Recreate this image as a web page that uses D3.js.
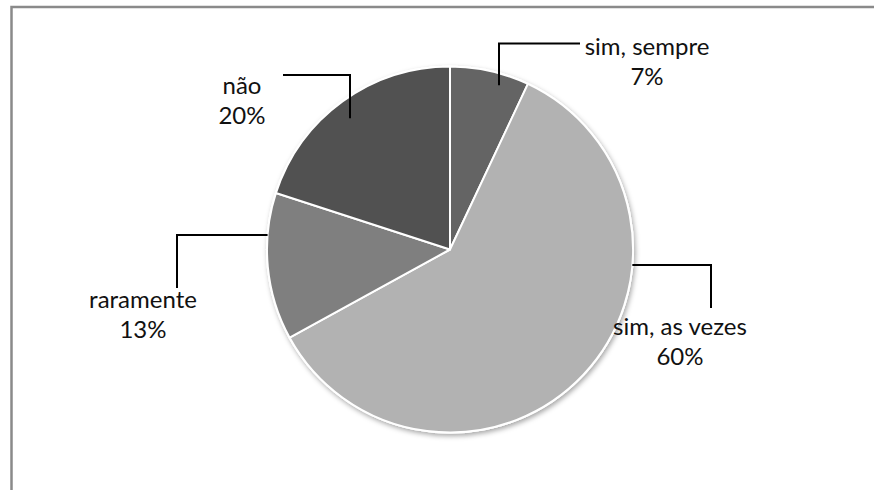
<!DOCTYPE html>
<html><head><meta charset="utf-8">
<script src="https://cdn.jsdelivr.net/npm/d3@7/dist/d3.min.js"></script>
<style>html,body{margin:0;padding:0;background:#fff;}svg{display:block;}</style>
</head><body><div id="chart"></div>
<script>
const categories = ["sim, sempre", "sim, as vezes", "raramente", "não"];
const values = [7, 60, 13, 20];
const percentLabels = ["7%", "60%", "13%", "20%"];
const colors = ["#646464", "#b2b2b2", "#7f7f7f", "#515151"];

const W = 874, H = 490;
const cx = 450, cy = 249.5, R = 183;

const svg = d3.select("#chart").append("svg").attr("width", W).attr("height", H);
const defs = svg.append("defs");
const f = defs.append("filter").attr("id", "sh").attr("x", "-20%").attr("y", "-20%").attr("width", "140%").attr("height", "140%");
f.append("feDropShadow").attr("dx", 1.5).attr("dy", 2.5).attr("stdDeviation", 2.5).attr("flood-color", "#000").attr("flood-opacity", 0.35);

// frame
svg.append("rect").attr("x", 11.5).attr("y", 7).attr("width", W + 20).attr("height", H + 20)
  .attr("fill", "none").attr("stroke", "#8a8a8a").attr("stroke-width", 2.5);

const pie = d3.pie().sort(null).value(d => d)(values);
const arc = d3.arc().innerRadius(0).outerRadius(R);

const g = svg.append("g").attr("transform", `translate(${cx},${cy})`);
g.append("circle").attr("r", R + 1).attr("fill", "#fff").attr("filter", "url(#sh)");
g.selectAll("path.s").data(pie).join("path").attr("class", "s")
  .attr("d", arc).attr("fill", (d, i) => colors[i])
  .attr("stroke", "#fff").attr("stroke-width", 2).attr("stroke-linejoin", "round");

const leaders = [
  {elbow: [499, 43.5], end: [580, 43.5], text: [647, 47]},
  {elbow: [711, 265], end: [711, 308], text: [680, 327]},
  {elbow: [177, 235], end: [177, 288], text: [143, 300]},
  {elbow: [350, 75], end: [283, 75], text: [242, 86]}
];

pie.forEach((d, i) => {
  const L = leaders[i];
  let start;
  if (i === 0 || i === 3) {
    const x = L.elbow[0] - cx;
    const y = -Math.sqrt(R * R - x * x) + (i === 0 ? 12 : 22);
    start = [L.elbow[0], cy + y];
  } else {
    const y = L.elbow[1] - cy;
    const xx = Math.sqrt(R * R - y * y);
    start = [i === 1 ? cx + xx : cx - xx, L.elbow[1]];
  }
  svg.append("path")
    .attr("d", d3.line()([start, L.elbow, L.end]))
    .attr("fill", "none").attr("stroke", "#000").attr("stroke-width", 2);
  const t = svg.append("text").attr("x", L.text[0]).attr("y", L.text[1])
    .attr("text-anchor", "middle").attr("font-family", "Lato, 'Open Sans', sans-serif")
    .attr("font-size", 24).attr("fill", "#111");
  t.append("tspan").attr("x", L.text[0]).attr("dy", "0.35em").text(categories[i]);
  t.append("tspan").attr("x", L.text[0]).attr("dy", 30).text(percentLabels[i]);
});
</script></body></html>
